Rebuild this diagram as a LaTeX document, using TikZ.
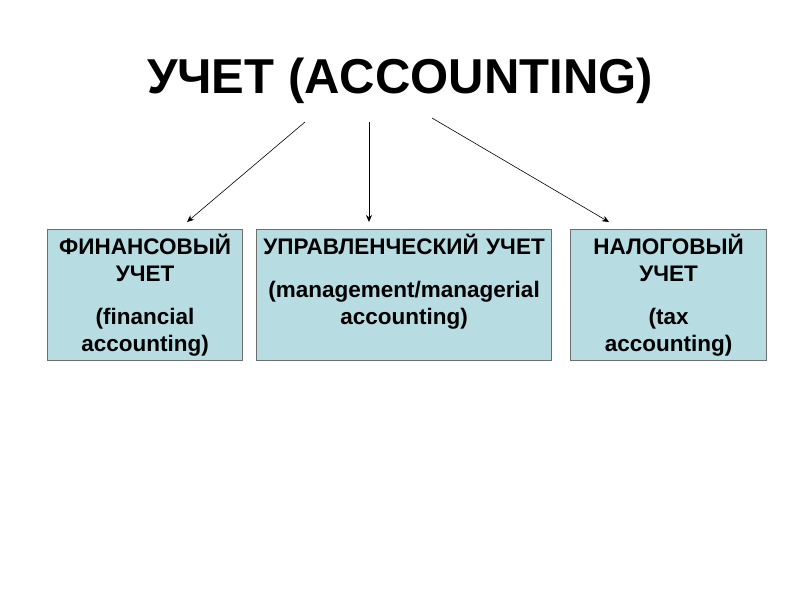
\documentclass[tikz,border=0pt]{standalone}
\usepackage{fontspec}
\setmainfont{Liberation Sans}
\usetikzlibrary{arrows.meta}

\definecolor{boxblue}{HTML}{B7DDE3}
\definecolor{boxline}{HTML}{6E6E6E}

\begin{document}
\begin{tikzpicture}[
x=1pt, y=-1pt,
kind/.style={
    draw=boxline,
    line width=1.2pt,
    fill=boxblue,
    anchor=north west,
    minimum height=131pt
},
kindtext/.style={
    anchor=north,
    inner sep=0pt,
    align=center,
    font=\bfseries\fontsize{22.5}{27}\selectfont
},
branch/.style={
    -{Stealth[length=7pt,width=6pt]},
    line width=0.6pt
}
]

\useasboundingbox (0,0) rectangle (800,600);

\node[anchor=base, font=\bfseries\fontsize{49}{56}\selectfont] (title) at (400,93)
    {УЧЕТ (ACCOUNTING)};

% the three kinds
\node[kind, minimum width=195pt] (fin) at (47,229) {};
\node[kind, minimum width=295pt] (man) at (256,229) {};
\node[kind, minimum width=196pt] (tax) at (570,229) {};

\node[kindtext, text width=190pt] (fintext) at ([yshift=-5]fin.north)
    {ФИНАНСОВЫЙ\\УЧЕТ\\[16pt](financial\\accounting)};
\node[kindtext, text width=290pt] (mantext) at ([yshift=-5]man.north)
    {УПРАВЛЕНЧЕСКИЙ УЧЕТ\\[16pt](management/managerial\\accounting)};
\node[kindtext, text width=190pt] (taxtext) at ([yshift=-5]tax.north)
    {НАЛОГОВЫЙ\\УЧЕТ\\[16pt](tax\\accounting)};

% arrows from the title
\coordinate (from1) at (305,122);
\coordinate (from2) at (369,122);
\coordinate (from3) at (432,118);
\coordinate (to1) at (187,222);
\coordinate (to2) at (369,222);
\coordinate (to3) at (609,222);

\draw[branch] (from1) -- (to1);
\draw[branch] (from2) -- (to2);
\draw[branch] (from3) -- (to3);
\end{tikzpicture}
\end{document}
